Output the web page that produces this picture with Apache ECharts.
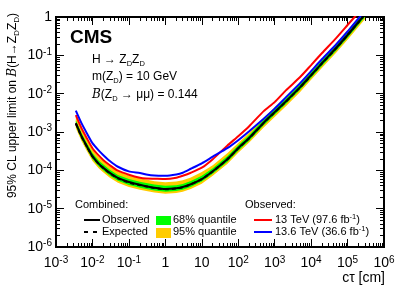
<!DOCTYPE html>
<html><head><meta charset="utf-8">
<script src="https://cdn.jsdelivr.net/npm/echarts@6/dist/echarts.min.js"></script>
<style>html,body{margin:0;padding:0;background:#fff}#c{width:402px;height:289px}</style>
</head><body><div id="c"></div>
<script>
// c tau [cm]
const ctau = [0.0035,0.005,0.007,0.01,0.015,0.02,0.03,0.05,0.1,0.2,0.3,0.5,1,2,3,5,10,20,50,100,200,500,1000,2000,5000,1e4,2e4,5e4,1e5,2e5,3e5];
// Combined observed
const observed = [1.70e-3,7.78e-4,4.26e-4,2.34e-4,1.47e-4,1.16e-4,8.57e-5,6.34e-5,4.95e-5,4.21e-5,3.85e-5,3.51e-5,3.25e-5,3.41e-5,3.66e-5,4.34e-5,5.93e-5,9.48e-5,1.95e-4,3.78e-4,6.98e-4,1.75e-3,3.30e-3,6.20e-3,0.0148,0.0305,0.0629,0.160,0.339,0.740,1.16];
// Combined expected
const expected = [1.66e-3,7.6e-4,4.2e-4,2.3e-4,1.45e-4,1.15e-4,8.4e-5,6.2e-5,4.8e-5,4.1e-5,3.8e-5,3.45e-5,3.2e-5,3.35e-5,3.6e-5,4.3e-5,5.9e-5,9.4e-5,1.93e-4,3.75e-4,6.9e-4,1.73e-3,3.25e-3,6.1e-3,0.0146,0.030,0.062,0.157,0.335,0.73,1.15];
const band95hi = [2.5e-3,1.16e-3,6.4e-4,3.5e-4,2.2e-4,1.75e-4,1.28e-4,9.4e-5,7.3e-5,6.2e-5,5.8e-5,5.2e-5,4.9e-5,5.1e-5,5.5e-5,6.5e-5,9.0e-5,1.36e-4,2.8e-4,5.2e-4,9.5e-4,2.34e-3,4.39e-3,8.2e-3,0.0197,0.0405,0.084,0.212,0.452,0.985,1.55];
const band68hi = [2.03e-3,9.35e-4,5.2e-4,2.83e-4,1.78e-4,1.41e-4,1.03e-4,7.6e-5,5.9e-5,5.0e-5,4.7e-5,4.25e-5,3.95e-5,4.1e-5,4.4e-5,5.3e-5,7.2e-5,1.13e-4,2.32e-4,4.5e-4,8.3e-4,2.08e-3,3.9e-3,7.3e-3,0.0175,0.036,0.0745,0.188,0.402,0.876,1.38];
const band68lo = [1.42e-3,6.55e-4,3.62e-4,1.98e-4,1.25e-4,9.9e-5,7.2e-5,5.35e-5,4.14e-5,3.53e-5,3.28e-5,2.97e-5,2.76e-5,2.89e-5,3.1e-5,3.7e-5,5.1e-5,8.1e-5,1.66e-4,3.23e-4,5.95e-4,1.49e-3,2.8e-3,5.26e-3,0.0126,0.0259,0.0534,0.135,0.289,0.629,0.99];
const band95lo = [1.26e-3,5.8e-4,3.2e-4,1.76e-4,1.11e-4,8.8e-5,6.4e-5,4.73e-5,3.66e-5,3.13e-5,2.9e-5,2.63e-5,2.44e-5,2.56e-5,2.75e-5,3.28e-5,4.5e-5,7.2e-5,1.47e-4,2.86e-4,5.3e-4,1.32e-3,2.48e-3,4.66e-3,0.0111,0.0229,0.0473,0.12,0.256,0.557,0.878];
// Observed 13 TeV (97.6 fb-1)
const obs13 = [2.75e-3,1.26e-3,6.9e-4,3.78e-4,2.41e-4,1.84e-4,1.36e-4,9.78e-5,7.68e-5,6.42e-5,6.11e-5,6.04e-5,5.93e-5,6.42e-5,7.23e-5,8.67e-5,1.17e-4,1.95e-4,4.4e-4,7.78e-4,1.42e-3,3.5e-3,6.02e-3,0.012,0.0271,0.0557,0.115,0.291,0.618,1.31,2.06];
// Observed 13.6 TeV (36.6 fb-1)
const obs136 = [3.61e-3,1.70e-3,9.33e-4,5.11e-4,3.26e-4,2.48e-4,1.75e-4,1.24e-4,9.38e-5,8.57e-5,7.82e-5,7.32e-5,7.23e-5,7.82e-5,8.67e-5,1.10e-4,1.53e-4,2.27e-4,3.78e-4,6.12e-4,1.05e-3,2.23e-3,4.07e-3,7.89e-3,0.0189,0.0388,0.08,0.197,0.418,0.914,1.44];
// axis ticks (decade exponents)
const xExpMin = -3, xExpMax = 6;
const yExpMin = -6, yExpMax = 0;

const FONT = '"Liberation Sans", Arial, Helvetica, sans-serif';
function minors(a, b) {
  const out = [];
  for (let d = a; d < b; d++) for (let m = 2; m <= 9; m++) out.push(d + Math.log10(m));
  return out;
}
const xMinor = minors(xExpMin, xExpMax);
const yMinor = minors(yExpMin, yExpMax);

function pairs(arr) { return ctau.map((c, i) => [c, arr[i]]); }
function expLabel(v) {
  const e = Math.round(v);
  if (e === 0) return '{n|1}';
  if (e === 1) return '{n|10}';
  return '{n|10}{s|' + e + '}';
}
const labRich = {
  n: { fontSize: 14, lineHeight: 17, fontFamily: FONT, color: '#000', verticalAlign: 'middle' },
  s: { fontSize: 10, lineHeight: 10, fontFamily: FONT, color: '#000', verticalAlign: 'top' }
};
const tickStyle = { color: '#000', width: 1 };

function valAxis(dim, pos, major, withLabel) {
  const a = {
    type: 'value', position: pos,
    min: dim === 'x' ? xExpMin : yExpMin,
    max: dim === 'x' ? xExpMax : yExpMax,
    axisLine: { show: false, onZero: false },
    splitLine: { show: false },
    axisTick: { show: true, inside: true, length: major ? 8 : 4, lineStyle: tickStyle },
    axisLabel: { show: false }
  };
  if (major) a.interval = 1;
  else a.axisTick.customValues = dim === 'x' ? xMinor : yMinor;
  if (withLabel) {
    a.axisLabel = { show: true, formatter: expLabel, rich: labRich, margin: dim === 'x' ? 8 : 4,
      showMinLabel: true, showMaxLabel: true, hideOverlap: false };
  }
  return a;
}

function band(hi, lo, color) {
  return {
    type: 'custom', xAxisIndex: 0, yAxisIndex: 0, silent: true, z: 1,
    data: [[1, 1e-3]],
    renderItem: function (params, api) {
      const pts = [];
      for (let i = 0; i < ctau.length; i++) pts.push(api.coord([ctau[i], hi[i]]));
      for (let i = ctau.length - 1; i >= 0; i--) pts.push(api.coord([ctau[i], lo[i]]));
      const cs = params.coordSys;
      return { type: 'polygon', shape: { points: pts }, style: { fill: color },
        clipPath: { type: 'rect', shape: { x: cs.x, y: cs.y, width: cs.width, height: cs.height } } };
    }
  };
}
function line(arr, color, dashed, z) {
  return { type: 'line', xAxisIndex: 0, yAxisIndex: 0, data: pairs(arr), symbol: 'none', smooth: 0.2,
    z: z, clip: true,
    lineStyle: { color: color, width: 2, type: dashed ? [4, 3] : 'solid' } };
}

const chart = echarts.init(document.getElementById('c'), null, { renderer: 'canvas' });
const txt = (x, y, text, extra) => Object.assign({ type: 'text', x: x, y: y, z: 100,
  style: Object.assign({ text: text, fontSize: 11, fontFamily: FONT, fill: '#000', verticalAlign: 'middle', align: 'left' }, extra || {}) });
const subRich = {
  d: { fontSize: 7.5, lineHeight: 7, fontFamily: FONT, verticalAlign: 'bottom' },
  s: { fontSize: 7.5, lineHeight: 7, fontFamily: FONT, verticalAlign: 'top' },
  b: { fontSize: 12, fontFamily: '"DejaVu Serif", serif', fontStyle: 'italic' }
};

chart.setOption({
  animation: false,
  backgroundColor: '#fff',
  grid: { left: 56, right: 18, top: 17, bottom: 42, show: true, borderColor: '#000', borderWidth: 2, backgroundColor: 'transparent' },
  xAxis: [
    { type: 'log', min: 1e-3, max: 1e6, show: false },
    valAxis('x', 'bottom', true, true),
    valAxis('x', 'bottom', false, false),
    valAxis('x', 'top', true, false),
    valAxis('x', 'top', false, false)
  ],
  yAxis: [
    { type: 'log', min: 1e-6, max: 1, show: false },
    valAxis('y', 'left', true, true),
    valAxis('y', 'left', false, false),
    valAxis('y', 'right', true, false),
    valAxis('y', 'right', false, false)
  ],
  series: [
    band(band95hi, band95lo, '#ffcc00'),
    band(band68hi, band68lo, '#00ff00'),
    line(obs13, '#ff0000', false, 3),
    line(obs136, '#0000ff', false, 4),
    line(expected, '#000', true, 5),
    line(observed, '#000', false, 6)
  ],
  graphic: [
    txt(70, 38, 'CMS', { fontSize: 19, fontWeight: 'bold' }),
    txt(92, 60, 'H \u2192 Z{d|D}Z{d|D}', { fontSize: 12, lineHeight: 15, rich: subRich }),
    txt(92, 77, 'm(Z{d|D}) = 10 GeV', { fontSize: 12, lineHeight: 15, rich: subRich }),
    txt(92, 95, '{b|B}(Z{d|D} \u2192 \u03bc\u03bc) = 0.144', { fontSize: 12, lineHeight: 15, rich: subRich }),
    // y title
    { type: 'text', x: 13, y: 13, rotation: Math.PI / 2, z: 100,
      style: { text: '95% CL upper limit on {b|B}(H\u2192Z{d|D}Z{d|D})', fontSize: 12, fontFamily: FONT, fill: '#000',
        align: 'right', verticalAlign: 'middle', lineHeight: 16,
        rich: { d: { fontSize: 8, lineHeight: 8, fontFamily: FONT, verticalAlign: 'bottom' },
                b: { fontSize: 12, fontFamily: '"DejaVu Serif", serif', fontStyle: 'italic' } } } },
    // x title
    txt(385, 278, 'c\u03c4 [cm]', { fontSize: 14, align: 'right' }),
    // legend
    txt(75, 205, 'Combined:'),
    { type: 'line', z: 100, shape: { x1: 84, y1: 220, x2: 100, y2: 220 }, style: { stroke: '#000', lineWidth: 2 } },
    txt(102, 220, 'Observed'),
    { type: 'line', z: 100, shape: { x1: 84, y1: 232, x2: 100, y2: 232 }, style: { stroke: '#000', lineWidth: 2, lineDash: [4, 5] } },
    txt(102, 232, 'Expected'),
    { type: 'rect', z: 100, shape: { x: 156, y: 216, width: 15, height: 9 }, style: { fill: '#00ff00' } },
    txt(173, 220, '68% quantile'),
    { type: 'rect', z: 100, shape: { x: 156, y: 228, width: 15, height: 10 }, style: { fill: '#ffcc00' } },
    txt(173, 232, '95% quantile'),
    txt(245, 205, 'Observed:'),
    { type: 'line', z: 100, shape: { x1: 254, y1: 220, x2: 272, y2: 220 }, style: { stroke: '#ff0000', lineWidth: 2 } },
    txt(275, 220, '13 TeV (97.6 fb{s|-1})', { lineHeight: 14, rich: subRich }),
    { type: 'line', z: 100, shape: { x1: 254, y1: 232, x2: 272, y2: 232 }, style: { stroke: '#0000ff', lineWidth: 2 } },
    txt(275, 232, '13.6 TeV (36.6 fb{s|-1})', { lineHeight: 14, rich: subRich })
  ]
});
</script></body></html>
